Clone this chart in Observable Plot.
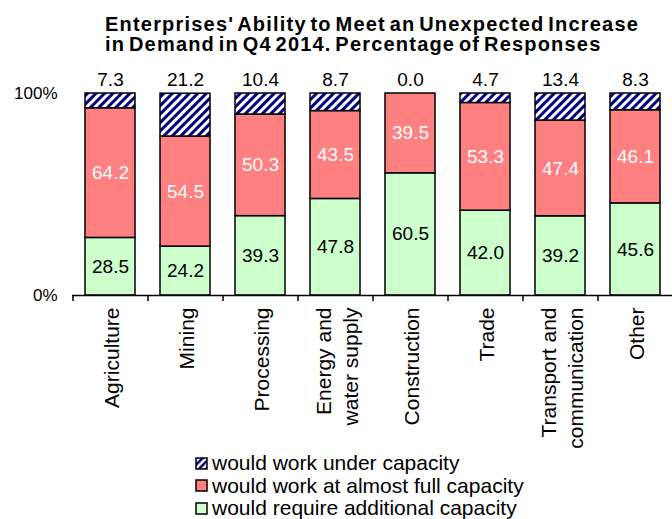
<!DOCTYPE html>
<html>
<head>
<meta charset="utf-8">
<script src="https://cdn.jsdelivr.net/npm/d3@7"></script>
<script src="https://cdn.jsdelivr.net/npm/@observablehq/plot@0.6"></script>
<style>
  html, body { margin: 0; padding: 0; background: #fff; }
  body { width: 672px; height: 519px; overflow: hidden; font-family: "Liberation Sans", Arial, sans-serif; color: #000; }
  #title { height: 60px; box-sizing: border-box; padding-top: 14px; padding-left: 105px; text-align: left; font-weight: bold; font-size: 20px; line-height: 20px; letter-spacing: 1.2px; word-spacing: -3px; white-space: nowrap; }
  #chart svg { display: block; }
  #legend { margin-left: 195px; font-size: 21px; line-height: 22.5px; }
  #legend .row { display: flex; align-items: center; white-space: nowrap; }
  #legend svg { margin-right: 4px; }
</style>
</head>
<body>
<div id="title">Enterprises' Ability to Meet an Unexpected Increase<br>in Demand in Q4 2014. Percentage of Responses</div>
<div id="chart"></div>
<div id="legend"></div>
<script>
const categories = ["Agriculture", "Mining", "Processing", "Energy and\nwater supply", "Construction", "Trade", "Transport and\ncommunication", "Other"];
const additional = [28.5, 24.2, 39.3, 47.8, 60.5, 42.0, 39.2, 45.6];
const full = [64.2, 54.5, 50.3, 43.5, 39.5, 53.3, 47.4, 46.1];
const under = [7.3, 21.2, 10.4, 8.7, 0.0, 4.7, 13.4, 8.3];
const seriesKeys = ["additional", "full", "under"];
const seriesLabels = ["would require additional capacity", "would work at almost full capacity", "would work under capacity"];
const seriesColors = ["#ccffcc", "#ff8080", "url(#hatch)"];
const yTicks = [0, 100];

const values = {additional, full, under};
const data = categories.flatMap((cat, i) => seriesKeys.map(s => ({cat, series: s, value: values[s][i]})));
const totals = categories.map((cat, i) => ({cat, total: additional[i] + full[i] + under[i], under: under[i]}));

const step = 600 / categories.length;

const chart = Plot.plot({
  width: 672,
  height: 392,
  marginTop: 33,
  marginBottom: 157,
  marginLeft: 72,
  marginRight: 0,
  style: {fontFamily: "'Liberation Sans', Arial, sans-serif", fontSize: "16px", color: "#000", background: "#fff"},
  x: {domain: categories, paddingInner: 1/3, paddingOuter: 1/6, label: null},
  y: {domain: [0, 100], label: null},
  color: {domain: seriesKeys, range: seriesColors},
  marks: [
    Plot.barY(data, Plot.stackY({x: "cat", y: "value", z: "series", fill: "series", order: seriesKeys, stroke: "#000", strokeWidth: 1.5})),
    Plot.text(data, Plot.stackY({x: "cat", y: "value", z: "series", order: seriesKeys, text: d => d.series === "additional" ? d.value.toFixed(1) : null, fill: "#000", fontSize: 19})),
    Plot.text(data, Plot.stackY({x: "cat", y: "value", z: "series", order: seriesKeys, text: d => d.series === "full" ? d.value.toFixed(1) : null, fill: "#fff", fontSize: 19})),
    Plot.text(totals, {x: "cat", y: "total", text: d => d.under.toFixed(1), dy: -14, fill: "#000", fontSize: 19}),
    Plot.ruleY([0], {stroke: "#000", strokeWidth: 1.5}),
    Plot.ruleX(categories, {x: d => d, y1: 0, y2: -3, dx: -step / 2, stroke: "#000", strokeWidth: 1.5}),
    Plot.axisY({ticks: yTicks, tickFormat: d => d + "%", tickSize: 0, tickPadding: 15, fontSize: 17}),
    Plot.axisX({tickSize: 0, tickRotate: -90, tickPadding: 12, fontSize: 21, lineHeight: 1.3})
  ]
});

const defs = d3.select(chart).insert("defs", ":first-child");
const pat = defs.append("pattern").attr("id", "hatch").attr("patternUnits", "userSpaceOnUse")
  .attr("width", 6).attr("height", 6).attr("patternTransform", "rotate(45)");
pat.append("rect").attr("width", 6).attr("height", 6).attr("fill", "#fff");
pat.append("rect").attr("width", 3).attr("height", 6).attr("fill", "#000080");

document.getElementById("chart").appendChild(chart);

const legend = d3.select("#legend");
[2, 1, 0].forEach(i => {
  const row = legend.append("div").attr("class", "row");
  const sw = row.append("svg").attr("width", 13).attr("height", 13);
  if (i === 2) {
    const p = sw.append("defs").append("pattern").attr("id", "hatchL").attr("patternUnits", "userSpaceOnUse")
      .attr("width", 5).attr("height", 5).attr("patternTransform", "rotate(45)");
    p.append("rect").attr("width", 5).attr("height", 5).attr("fill", "#fff");
    p.append("rect").attr("width", 2.5).attr("height", 5).attr("fill", "#000080");
  }
  sw.append("rect").attr("x", 1).attr("y", 1).attr("width", 11).attr("height", 11)
    .attr("fill", i === 2 ? "url(#hatchL)" : seriesColors[i]).attr("stroke", "#000").attr("stroke-width", 1.5);
  row.append("span").text(seriesLabels[i]);
});
</script>
</body>
</html>
